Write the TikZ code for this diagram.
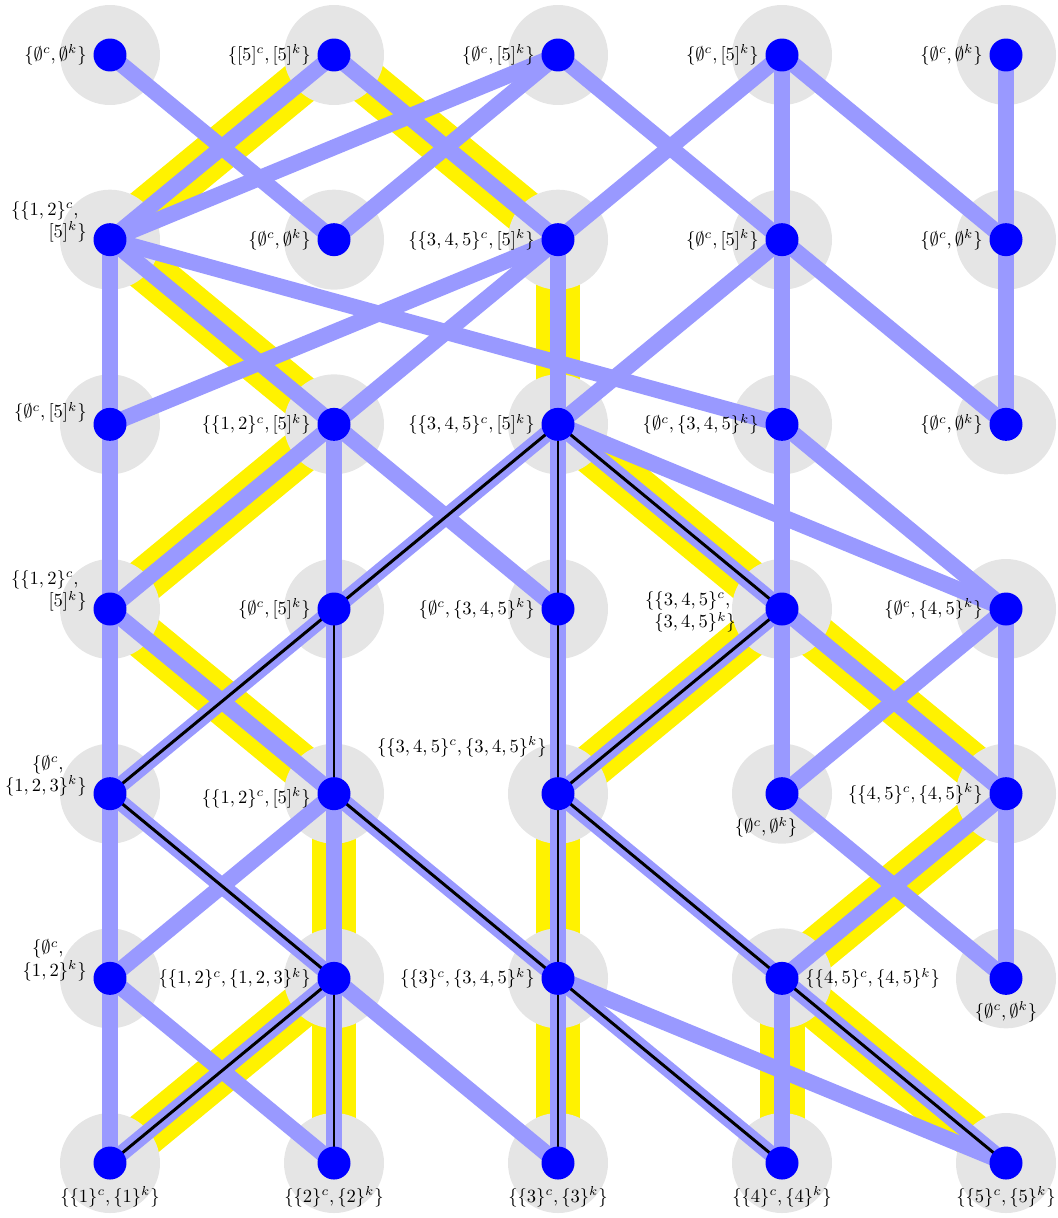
\documentclass[tikz,border=0pt]{standalone}
\pgfdeclarelayer{ylw}
\pgfdeclarelayer{gry}
\pgfdeclarelayer{blu}
\pgfdeclarelayer{blk}
\pgfsetlayers{ylw,gry,blu,blk,main}
\begin{document}
\begin{tikzpicture}[x=0.538pt,y=-0.538pt,
  disc/.style={circle,fill=gray!20,minimum size=53.8pt,inner sep=0pt},
  dot/.style={circle,fill=blue,minimum size=17.75pt,inner sep=0pt},
  ylwline/.style={line width=24.2pt,draw=yellow},
  bluline/.style={line width=8.6pt,draw=blue!40},
  blkline/.style={line width=1.6pt,draw=black},
  lbl/.style={inner sep=3.33pt},
  lft/.style={lbl,anchor=east},
  blw/.style={lbl,anchor=north}]
\useasboundingbox (0,0) rectangle (1057,1218);
\foreach \c in {1,...,5}{\foreach \r in {1,...,7}{
  \node[dot] (d\c\r) at ({110+224*(\c-1)},{55+184.67*(\r-1)}) {};
  \begin{pgfonlayer}{gry}\node[disc] (g\c\r) at (d\c\r.center) {};\end{pgfonlayer}
}}
% yellow edges
\begin{pgfonlayer}{ylw}
\foreach \a/\b in {21/12,21/32,12/23,32/33,23/14,33/44,14/25,44/35,44/55,25/26,35/36,55/46,26/17,26/27,36/37,46/47,46/57}
  \draw[ylwline] (d\a.center) -- (d\b.center);
\end{pgfonlayer}
% blue edges
\begin{pgfonlayer}{blu}
\foreach \a/\b in {11/22,21/12,21/32,31/12,31/22,31/42,41/32,41/42,41/52,51/52,
  12/13,12/23,12/43,32/13,32/23,32/33,42/33,42/43,42/53,52/53,
  13/14,23/14,23/24,23/34,33/24,33/34,33/44,33/54,43/44,43/54,
  14/15,14/25,24/15,24/25,34/35,44/35,44/45,44/55,54/45,54/55,
  15/16,15/26,25/16,25/26,25/36,35/36,35/46,45/56,55/46,55/56,
  16/17,16/27,26/17,26/27,26/37,36/37,36/47,36/57,46/47,46/57}
  \draw[bluline] (d\a.center) -- (d\b.center);
\end{pgfonlayer}
% black edges
\begin{pgfonlayer}{blk}
\foreach \a/\b in {33/24,33/34,33/44,24/15,24/25,34/35,44/35,15/26,25/36,35/36,35/46,26/17,26/27,36/37,36/47,46/57}
  \draw[blkline] (d\a.center) -- (d\b.center);
\end{pgfonlayer}
% labels row 1
\node[lft] (l11) at (d11.west) {$\{\emptyset^c,\emptyset^k\}$};
\node[lft] (l21) at (d21.west) {$\{[5]^c,[5]^k\}$};
\node[lft] (l31) at (d31.west) {$\{\emptyset^c,[5]^k\}$};
\node[lft] (l41) at (d41.west) {$\{\emptyset^c,[5]^k\}$};
\node[lft] (l51) at (d51.west) {$\{\emptyset^c,\emptyset^k\}$};
% row 2
\node[lft,align=right,yshift=9.7pt] (l12) at (d12.west) {$\{\{1,2\}^c,\kern4.3pt$\\$[5]^k\}$};
\node[lft] (l22) at (d22.west) {$\{\emptyset^c,\emptyset^k\}$};
\node[lft] (l32) at (d32.west) {$\{\{3,4,5\}^c,[5]^k\}$};
\node[lft] (l42) at (d42.west) {$\{\emptyset^c,[5]^k\}$};
\node[lft] (l52) at (d52.west) {$\{\emptyset^c,\emptyset^k\}$};
% row 3
\node[lft,yshift=6.5pt] (l13) at (d13.west) {$\{\emptyset^c,[5]^k\}$};
\node[lft] (l23) at (d23.west) {$\{\{1,2\}^c,[5]^k\}$};
\node[lft] (l33) at (d33.west) {$\{\{3,4,5\}^c,[5]^k\}$};
\node[lft] (l43) at (d43.west) {$\{\emptyset^c,\{3,4,5\}^k\}$};
\node[lft] (l53) at (d53.west) {$\{\emptyset^c,\emptyset^k\}$};
% row 4
\node[lft,align=right,yshift=9.7pt] (l14) at (d14.west) {$\{\{1,2\}^c,\kern4.3pt$\\$[5]^k\}$};
\node[lft] (l24) at (d24.west) {$\{\emptyset^c,[5]^k\}$};
\node[lft] (l34) at (d34.west) {$\{\emptyset^c,\{3,4,5\}^k\}$};
\node[lft,align=right,xshift=-12.3pt,yshift=-1.6pt] (l44) at (d44.west) {$\{\{3,4,5\}^c,\kern2.96pt$\\$\{3,4,5\}^k\}$};
\node[lft] (l54) at (d54.west) {$\{\emptyset^c,\{4,5\}^k\}$};
% row 5
\node[lft,align=right,yshift=9.7pt] (l15) at (d15.west) {$\{\emptyset^c,\kern12.4pt$\\$\{1,2,3\}^k\}$};
\node[lft,yshift=-2.15pt] (l25) at (d25.west) {$\{\{1,2\}^c,[5]^k\}$};
\node[lft,xshift=-2.6pt,yshift=25.1pt] (l35) at (d35.center) {$\{\{3,4,5\}^c,\{3,4,5\}^k\}$};
\node[blw,xshift=-8.6pt] (l45) at (d45.south) {$\{\emptyset^c,\emptyset^k\}$};
\node[lft] (l55) at (d55.west) {$\{\{4,5\}^c,\{4,5\}^k\}$};
% row 6
\node[lft,align=right,yshift=9.7pt] (l16) at (d16.west) {$\{\emptyset^c,\kern12.4pt$\\$\{1,2\}^k\}$};
\node[lft] (l26) at (d26.west) {$\{\{1,2\}^c,\{1,2,3\}^k\}$};
\node[lft] (l36) at (d36.west) {$\{\{3\}^c,\{3,4,5\}^k\}$};
\node[lbl,anchor=west] (l46) at (d46.east) {$\{\{4,5\}^c,\{4,5\}^k\}$};
\node[blw] (l56) at (d56.south) {$\{\emptyset^c,\emptyset^k\}$};
% row 7
\node[blw] (l17) at (d17.south) {$\{\{1\}^c,\{1\}^k\}$};
\node[blw] (l27) at (d27.south) {$\{\{2\}^c,\{2\}^k\}$};
\node[blw] (l37) at (d37.south) {$\{\{3\}^c,\{3\}^k\}$};
\node[blw] (l47) at (d47.south) {$\{\{4\}^c,\{4\}^k\}$};
\node[blw] (l57) at (d57.south) {$\{\{5\}^c,\{5\}^k\}$};
\end{tikzpicture}
\end{document}
